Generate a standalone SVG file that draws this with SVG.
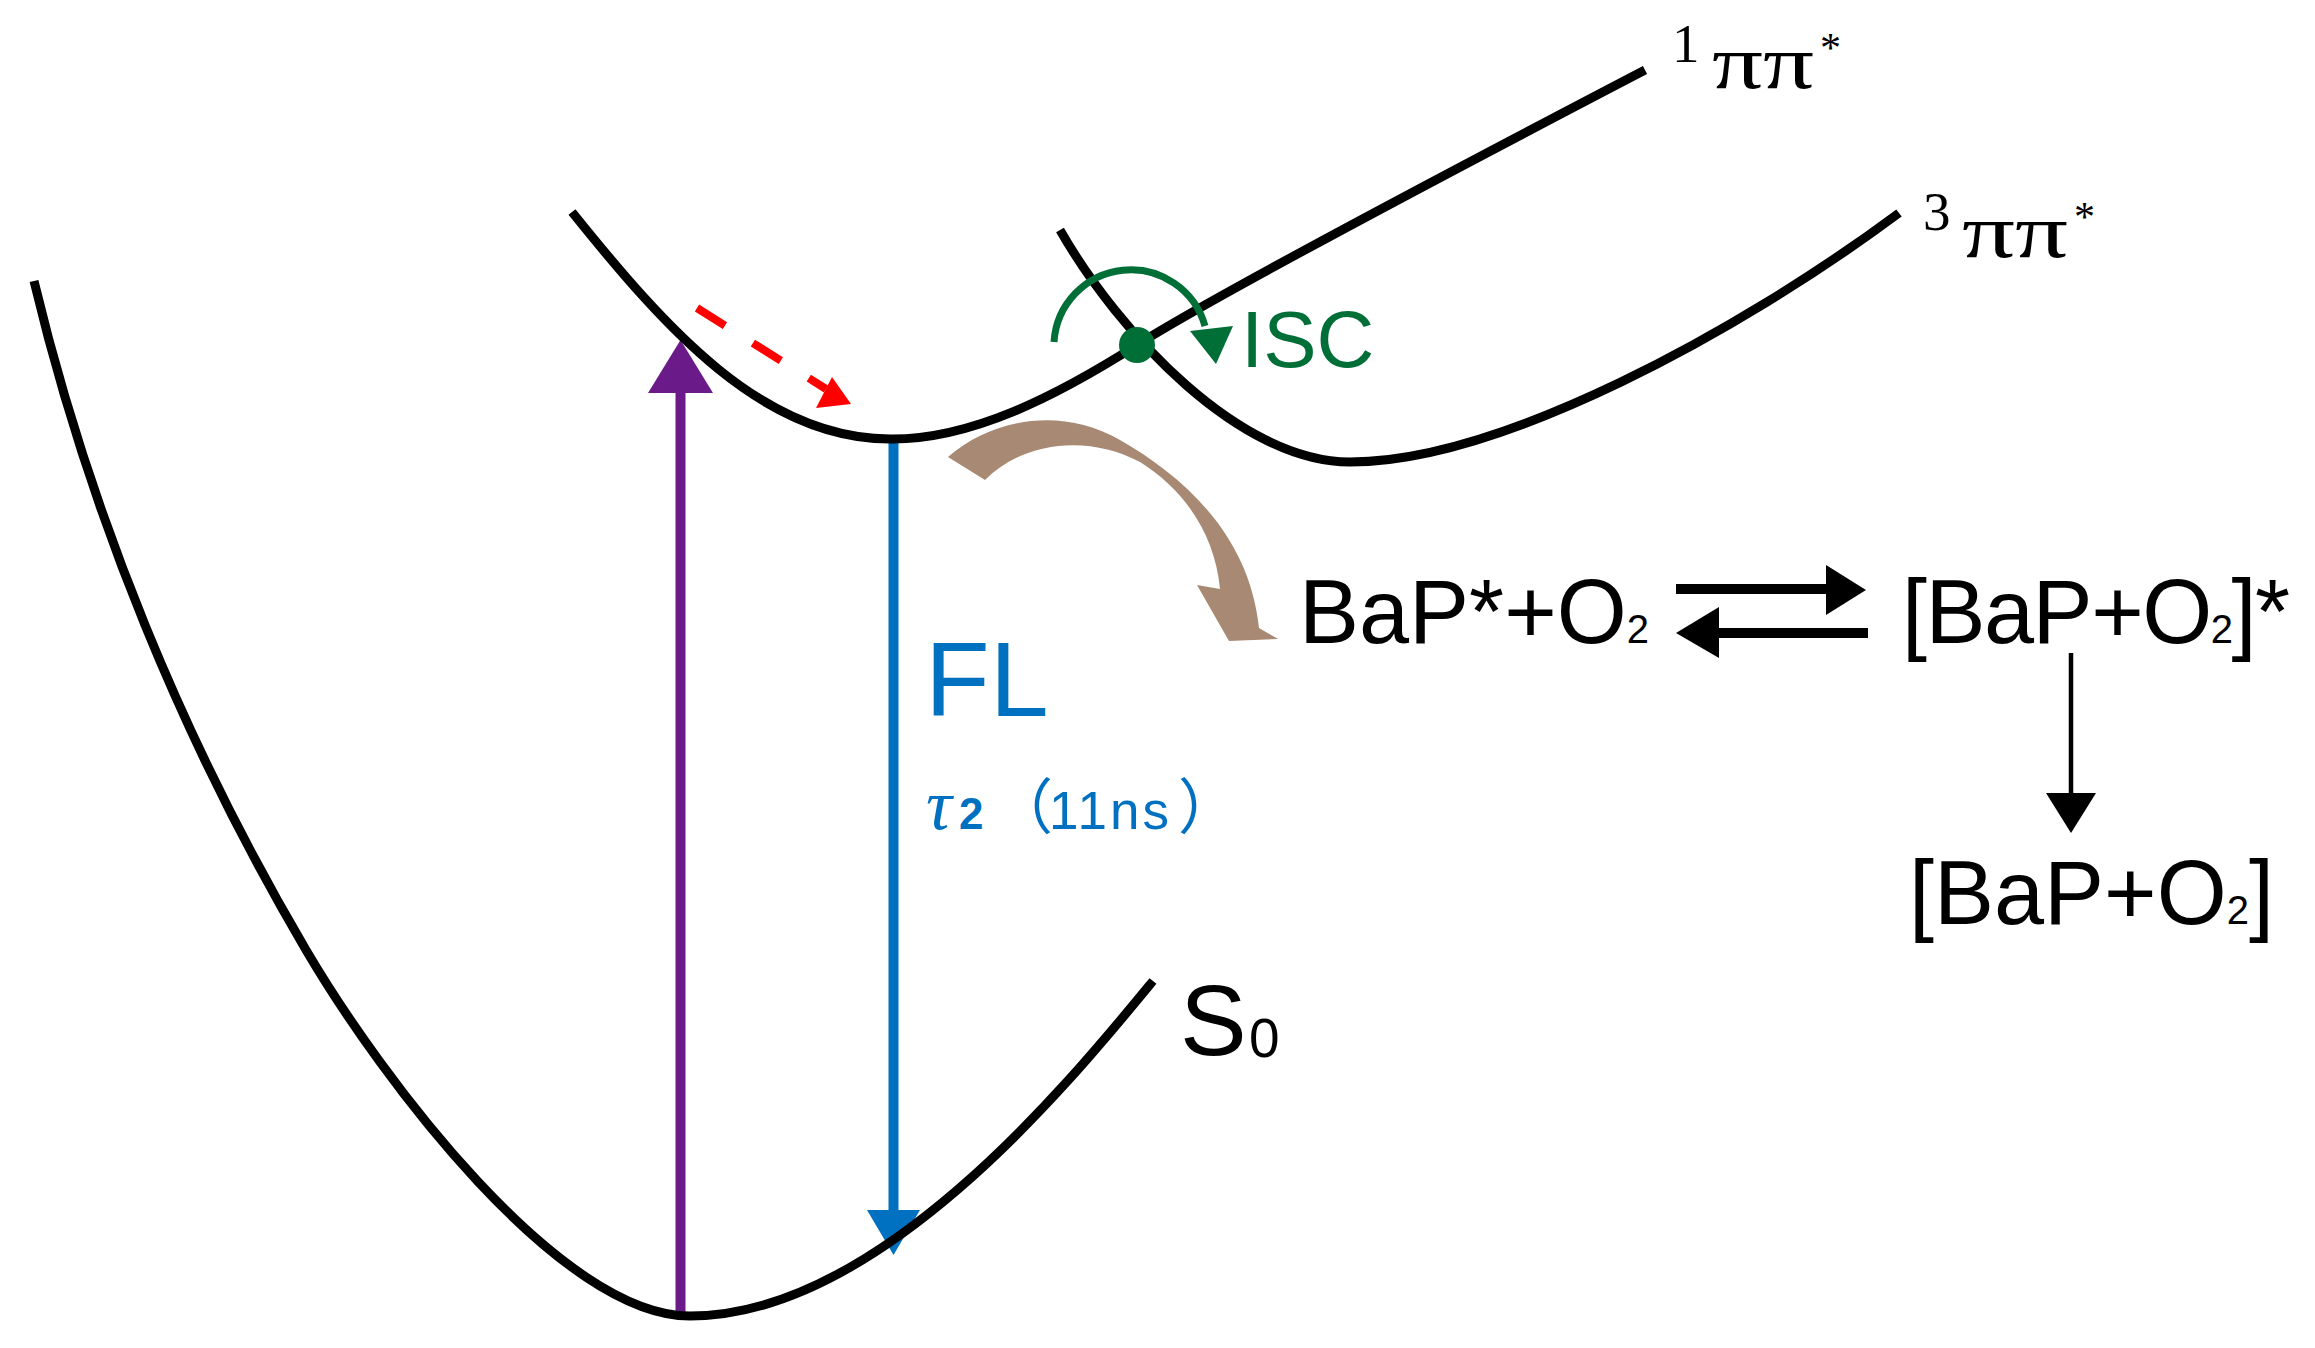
<svg xmlns="http://www.w3.org/2000/svg" width="2315" height="1348" viewBox="0 0 2315 1348">
<style>
.curve{fill:none;stroke:#000;stroke-width:9;stroke-linecap:butt;stroke-linejoin:round}
.sans{font-family:"Liberation Sans",Arial,sans-serif}
.serif{font-family:"Liberation Serif","Times New Roman",serif}
.blk{fill:#000}
.blue{fill:#0070c0}
.green{fill:#006f37}
</style>
<rect width="2315" height="1348" fill="#fff"/>
<g id="connectors">
  <g id="excitation">
    <line x1="680.5" y1="1314" x2="680.5" y2="390" stroke="#6b1a8a" stroke-width="10"/>
    <polygon points="648,393 713,393 680.5,340" fill="#6b1a8a"/>
  </g>
  <g id="fluorescence">
    <line x1="893.5" y1="438" x2="893.5" y2="1213" stroke="#0070c0" stroke-width="10"/>
    <polygon points="867,1210 920,1210 893.5,1255" fill="#0070c0"/>
  </g>
  <g id="relaxation">
    <line x1="697" y1="308" x2="826" y2="389" stroke="#ff0000" stroke-width="8" stroke-dasharray="33 33"/>
    <polygon points="832,377 851,404 816,408" fill="#ff0000"/>
  </g>
  <path id="quench" d="M948,457 C990,420 1060,405 1120,440 C1190,480 1250,540 1259,628 L1278,639 L1229,641 L1197,585 L1220,589 C1215,535 1185,490 1140,462 C1090,435 1025,440 985,480 Z" fill="#a88a74"/>
  <g id="equilibrium">
    <line x1="1676" y1="589" x2="1828" y2="589" stroke="#000" stroke-width="10"/>
    <polygon points="1826,565 1866,590 1826,615" fill="#000"/>
    <line x1="1717" y1="633" x2="1868" y2="633" stroke="#000" stroke-width="10"/>
    <polygon points="1719,607 1676,633 1719,658" fill="#000"/>
  </g>
  <g id="decay">
    <line x1="2071" y1="653" x2="2071" y2="796" stroke="#000" stroke-width="4.5"/>
    <polygon points="2046,793 2096,793 2071,833" fill="#000"/>
  </g>
</g>
<g id="S0-curve">
  <path class="curve" d="M34,281 C90,515 184,743 306,950 C382,1079 560,1316 690,1316 C880,1316 1071,1080.5 1153,981"/>
  <text class="sans blk" x="1180" y="1055" font-size="100">S</text>
  <text class="sans blk" x="1249" y="1057" font-size="55">0</text>
</g>
<g id="S1-curve">
  <path class="curve" d="M572,212 C666,329 763,439 890,439 C970,440 1055,397 1137,345 C1217,294 1530,130 1645,70"/>
  <text class="serif blk" x="1672" y="62" font-size="55">1</text>
  <text class="serif blk" x="1712" y="88" font-size="76" textLength="102" lengthAdjust="spacingAndGlyphs">ππ</text>
  <text class="serif blk" x="1820" y="62" font-size="42">*</text>
</g>
<g id="T1-curve">
  <path class="curve" d="M1060,230 C1119.5,334 1240,462 1350,462 C1500,462 1739,332 1899,213"/>
  <text class="serif blk" x="1923" y="230" font-size="55">3</text>
  <text class="serif blk" x="1962" y="257" font-size="76" textLength="106" lengthAdjust="spacingAndGlyphs">ππ</text>
  <text class="serif blk" x="2074" y="231" font-size="42">*</text>
</g>
<g id="ISC">
  <path d="M1054,342 A77,77 0 0 1 1205,326" fill="none" stroke="#006f37" stroke-width="7"/>
  <polygon points="1190,331 1233,326 1216,364" fill="#006f37"/>
  <circle cx="1137" cy="345" r="18" fill="#006f37"/>
  <text class="sans green" x="1241" y="367" font-size="80">ISC</text>
</g>
<g id="FL-label">
  <text class="sans blue" x="925" y="716" font-size="106">FL</text>
  <text class="blue" y="829"><tspan x="926" font-family="'Liberation Serif',serif" font-style="italic" font-size="72">τ</tspan><tspan x="959" font-family="'Liberation Sans',sans-serif" font-weight="bold" font-size="44">2</tspan><tspan x="993" font-family="'Noto Sans CJK SC',sans-serif" font-size="60">（</tspan><tspan x="1049" font-family="'Liberation Sans',sans-serif" font-size="53" letter-spacing="3">11ns</tspan><tspan x="1178" font-family="'Noto Sans CJK SC',sans-serif" font-size="60">）</tspan></text>
</g>
<g id="BaP-O2">
  <text class="sans blk" x="1299" y="643" font-size="90">BaP*+O<tspan font-size="40">2</tspan></text>
</g>
<g id="BaP-O2-excited">
  <text class="sans blk" x="1902" y="643" font-size="90" textLength="388">[BaP+O<tspan font-size="40">2</tspan>]*</text>
</g>
<g id="BaP-O2-product">
  <text class="sans blk" x="1909" y="924" font-size="90">[BaP+O<tspan font-size="40">2</tspan>]</text>
</g>
</svg>
